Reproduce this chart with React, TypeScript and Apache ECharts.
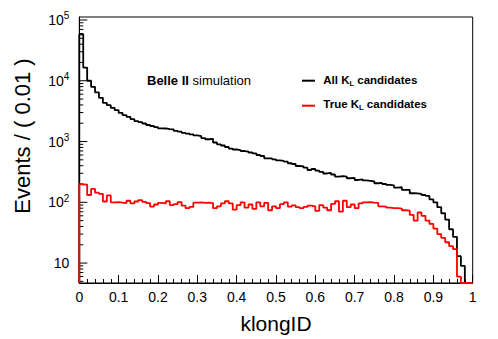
import React, { useEffect, useRef } from 'react';
import * as echarts from 'echarts';

const BIN_WIDTH = 0.01;
const Y_MIN = 4.7;
const Y_MAX = 112000;

const allKL = [
  58200, 16500, 10000, 7940, 6430, 5240, 4340, 3970, 3590, 3290,
  2970, 2720, 2550, 2340, 2170, 2090, 1980, 1870, 1800, 1730,
  1650, 1640, 1600, 1590, 1500, 1460, 1390, 1350, 1310, 1260,
  1230, 1140, 1090, 1110, 964, 900, 860, 813, 767, 739,
  725, 698, 680, 660, 640, 600, 578, 530, 527, 510,
  488, 479, 466, 439, 427, 396, 390, 371, 340, 353,
  331, 316, 298, 305, 287, 264, 270, 264, 249, 252,
  233, 238, 229, 225, 220, 206, 208, 200, 193, 190,
  174, 177, 160, 160, 141, 140, 137, 132, 128, 112,
  100, 83, 66, 52, 36, 27, 13, 9, 0, 0,
];

const trueKL = [
  198, 196, 132, 166, 144, 138, 103, 130, 100, 101,
  99, 97, 106, 96, 103, 109, 102, 97, 85, 92,
  98, 96, 104, 90, 93, 101, 88, 80, 84, 99,
  100, 98, 99, 97, 80, 86, 96, 104, 96, 76,
  90, 100, 82, 92, 78, 100, 86, 98, 74, 86,
  80, 93, 100, 85, 89, 83, 80, 84, 88, 86,
  72, 90, 82, 74, 94, 104, 70, 106, 83, 92,
  80, 96, 100, 101, 99, 98, 86, 85, 82, 80,
  80, 79, 74, 73, 62, 50, 68, 60, 50, 44,
  37, 30, 26, 22, 19, 17, 6, 0, 0, 0,
];

const yMajorTicks = [10, 100, 1000, 10000, 100000];
const yMinorMultipliers = [2, 3, 4, 5, 6, 7, 8, 9];
const yDecadeBases = [1, 10, 100, 1000, 10000];

function histPoints(vals: number[]) {
  const pts: number[][] = [[0, Y_MIN]];
  vals.forEach((v, i) => pts.push([i * BIN_WIDTH, Math.max(v, Y_MIN)]));
  pts.push([vals.length * BIN_WIDTH, Math.max(vals[vals.length - 1], Y_MIN)]);
  return pts;
}

function yTickData() {
  const out: number[][] = [];
  yMajorTicks.forEach((v) => out.push([0, v, 1]));
  yDecadeBases.forEach((b) =>
    yMinorMultipliers.forEach((m) => {
      const v = b * m;
      if (v >= Y_MIN && v <= Y_MAX) out.push([0, v, 0]);
    })
  );
  return out;
}

const FONT = '"Liberation Sans", Arial, Helvetica, sans-serif';

export default function App() {
  const ref = useRef<HTMLDivElement>(null);
  useEffect(() => {
    if (!ref.current) return;
    const chart = echarts.init(ref.current, undefined, { renderer: 'svg' });
    chart.setOption({
      animation: false,
      backgroundColor: '#fff',
      textStyle: { fontFamily: FONT },
      grid: {
        left: 79.3,
        right: 25.3,
        top: 17,
        bottom: 55.7,
        show: true,
        borderColor: '#000',
        borderWidth: 1,
        backgroundColor: 'transparent',
      },
      xAxis: {
        type: 'value',
        min: 0,
        max: 1,
        interval: 0.1,
        name: 'klongID',
        nameLocation: 'middle',
        nameGap: 30,
        nameTextStyle: { fontSize: 21, color: '#000', fontFamily: FONT },
        axisLine: { show: true, lineStyle: { color: '#000', width: 1 } },
        axisTick: { show: true, inside: true, length: 8, lineStyle: { color: '#000', width: 1 } },
        minorTick: { show: true, splitNumber: 5, length: 4, lineStyle: { color: '#000', width: 1 } },
        splitLine: { show: false },
        axisLabel: {
          fontSize: 14,
          color: '#000',
          margin: 7,
          fontFamily: FONT,
          formatter: (v: number) => (v === 0 ? '0' : v === 1 ? '1' : v.toFixed(1)),
        },
      },
      yAxis: {
        type: 'log',
        logBase: 10,
        min: Y_MIN,
        max: Y_MAX,
        axisLine: { show: true, lineStyle: { color: '#000', width: 1 } },
        axisTick: { show: false },
        splitLine: { show: false },
        axisLabel: {
          fontSize: 14,
          color: '#000',
          margin: 10,
          lineHeight: 18,
          fontFamily: FONT,
          showMinLabel: false,
          showMaxLabel: false,
          formatter: (v: number) => {
            const l = Math.log10(v);
            const e = Math.round(l);
            if (Math.abs(l - e) > 1e-6) return '';
            if (e === 1) return '10';
            return '10{sup|' + e + '}';
          },
          rich: {
            sup: { fontSize: 10, lineHeight: 10, verticalAlign: 'top', color: '#000', fontFamily: FONT },
          },
        },
      },
      graphic: [
        {
          type: 'text',
          x: 22,
          y: 136,
          rotation: Math.PI / 2,
          style: {
            text: 'Events / ( 0.01 )',
            fontSize: 22,
            fontFamily: FONT,
            fill: '#000',
            align: 'center',
            verticalAlign: 'middle',
          },
        },
        {
          type: 'text',
          x: 147,
          y: 80.5,
          style: {
            text: '{b|Belle II} simulation',
            fontSize: 13,
            fontFamily: FONT,
            fill: '#000',
            verticalAlign: 'middle',
            rich: { b: { fontWeight: 'bold', fontSize: 13, fontFamily: FONT } },
          },
        },
        {
          type: 'line',
          shape: { x1: 302, y1: 80.7, x2: 315, y2: 80.7 },
          style: { stroke: '#000', lineWidth: 2 },
        },
        {
          type: 'line',
          shape: { x1: 302, y1: 105.7, x2: 315, y2: 105.7 },
          style: { stroke: '#ff0000', lineWidth: 2 },
        },
        {
          type: 'text',
          x: 323.3,
          y: 79.5,
          style: {
            text: 'All K{s|L} candidates',
            fontSize: 11.5,
            fontWeight: 'bold',
            fontFamily: FONT,
            lineHeight: 15,
            fill: '#000',
            verticalAlign: 'middle',
            rich: { s: { fontSize: 7.5, lineHeight: 7, verticalAlign: 'bottom', fontWeight: 'bold', fontFamily: FONT } },
          },
        },
        {
          type: 'text',
          x: 323.3,
          y: 104,
          style: {
            text: 'True K{s|L} candidates',
            fontSize: 11.5,
            fontWeight: 'bold',
            fontFamily: FONT,
            lineHeight: 15,
            fill: '#000',
            verticalAlign: 'middle',
            rich: { s: { fontSize: 7.5, lineHeight: 7, verticalAlign: 'bottom', fontWeight: 'bold', fontFamily: FONT } },
          },
        },
      ],
      series: [
        {
          name: 'All KL candidates',
          type: 'line',
          step: 'end',
          data: histPoints(allKL),
          showSymbol: false,
          clip: false,
          lineStyle: { color: '#000', width: 1.8 },
          z: 3,
        },
        {
          name: 'True KL candidates',
          type: 'line',
          step: 'end',
          data: histPoints(trueKL),
          showSymbol: false,
          clip: false,
          lineStyle: { color: '#ff0000', width: 1.8 },
          z: 4,
        },
        {
          type: 'custom',
          data: yTickData(),
          encode: { x: 0, y: 1 },
          silent: true,
          clip: false,
          z: 2,
          renderItem: (params: any, api: any) => {
            const v = api.value(1);
            const major = api.value(2);
            const p = api.coord([0, v]);
            const len = major ? 8 : 4;
            return {
              type: 'line',
              shape: { x1: p[0], y1: p[1], x2: p[0] + len, y2: p[1] },
              style: { stroke: '#000', lineWidth: 1 },
            };
          },
        },
      ],
    });
    return () => chart.dispose();
  }, []);
  return (
    <div
      ref={ref}
      style={{ position: 'fixed', left: 0, top: 0, width: 498, height: 339 }}
    />
  );
}
